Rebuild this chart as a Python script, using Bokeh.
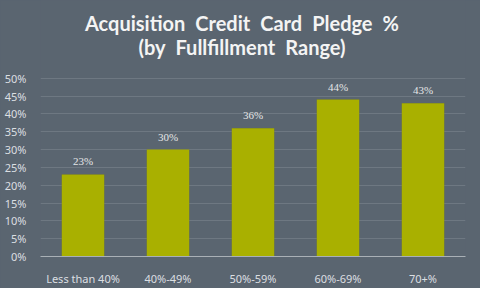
from bokeh.plotting import figure
from bokeh.models import ColumnDataSource, LabelSet, Label, FixedTicker, NumeralTickFormatter, Range1d, FactorRange
from bokeh.embed import file_html
from bokeh.resources import INLINE

categories = ["Less than 40%", "40%-49%", "50%-59%", "60%-69%", "70+%"]
values = [0.23, 0.30, 0.36, 0.44, 0.43]
value_labels = ["23%", "30%", "36%", "44%", "43%"]
y_ticks = [0, 0.05, 0.10, 0.15, 0.20, 0.25, 0.30, 0.35, 0.40, 0.45, 0.50]
title_lines = ["Acquisition\u2002Credit\u2002Card\u2002Pledge\u2002%", "(by\u2002Fullfillment\u2002Range)"]

BG = "#5a6570"
BAR = "#a9b000"

source = ColumnDataSource(data=dict(cat=categories, val=values, lab=value_labels))

# frame spans the full height above the x axis; ticks/grid stop at 50%
p = figure(width=480, height=288, x_range=FactorRange(*categories, range_padding=0),
           y_range=Range1d(0, 0.718), output_backend="svg", toolbar_location=None,
           min_border_left=40, min_border_right=15, min_border_top=0, min_border_bottom=31)
p.background_fill_color = BG
p.border_fill_color = BG
p.outline_line_color = None
p.styles = {"background-color": BG}

# shadow
p.vbar(x="cat", top="val", width=0.5, source=source, fill_color="#3f4a2a", line_color=None,
       fill_alpha=0.5)
p.vbar(x="cat", top="val", width=0.5, source=source, fill_color=BAR, line_color=None)

p.xgrid.grid_line_color = None
p.ygrid.grid_line_color = "#6e7882"
p.ygrid.grid_line_width = 1
p.yaxis.ticker = FixedTicker(ticks=y_ticks)
p.yaxis.formatter = NumeralTickFormatter(format="0%")
p.yaxis.axis_line_color = None
p.yaxis.major_tick_line_color = None
p.yaxis.minor_tick_line_color = None
p.yaxis.major_label_text_color = "#dcdfe2"
p.yaxis.major_label_text_font = "Noto Sans"
p.yaxis.major_label_text_font_size = "11px"
p.yaxis.major_label_standoff = 8

p.xaxis.axis_line_color = "#a9b0b6"
p.xaxis.major_tick_line_color = None
p.xaxis.minor_tick_line_color = None
p.xaxis.major_label_text_color = "#dcdfe2"
p.xaxis.major_label_text_font = "Noto Sans"
p.xaxis.major_label_text_font_size = "11px"
p.xaxis.major_label_standoff = 8

labels = LabelSet(x="cat", y="val", text="lab", source=source, text_align="center",
                  text_baseline="bottom", y_offset=7, text_color="#e4e6e8",
                  text_font="Noto Sans", text_font_size="11px")
p.add_layout(labels)

for t, yy in zip(title_lines, [0.6536, 0.5866]):
    p.add_layout(Label(x=2.37, y=yy, text=t, text_align="center", text_baseline="middle",
                       text_color="#f4f4f4", text_font="Lato", text_font_style="bold",
                       text_font_size="20px"))

open("out.html", "w").write(file_html(p, INLINE))
